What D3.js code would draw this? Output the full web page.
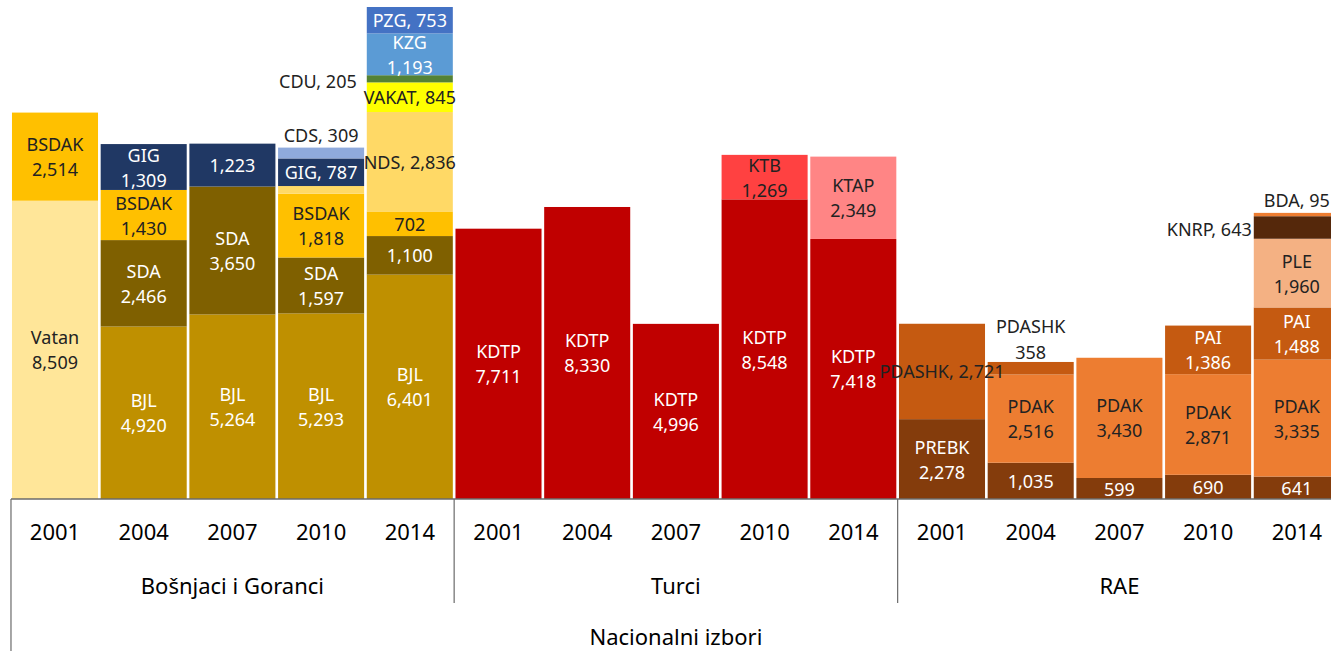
<!DOCTYPE html>
<html>
<head>
<meta charset="utf-8">
<script src="https://cdn.jsdelivr.net/npm/d3@7"></script>
<style>
  body { margin: 0; background: #fff; }
  text { font-family: "Noto Sans", "Open Sans", sans-serif; }
</style>
</head>
<body>
<svg width="1331" height="651"></svg>
<script>
'use strict';

// categories
var years = ["2001", "2004", "2007", "2010", "2014"];
var groups = ["Bošnjaci i Goranci", "Turci", "RAE"];
var title = "Nacionalni izbori";

// series values, one per column (3 groups x 5 years)
var Vatan  = [8509, 0, 0, 0, 0,      0, 0, 0, 0, 0,                  0, 0, 0, 0, 0];
var BJL    = [0, 4920, 5264, 5293, 6401, 0, 0, 0, 0, 0,              0, 0, 0, 0, 0];
var PREBK  = [0, 0, 0, 0, 0,         0, 0, 0, 0, 0,                  2278, 1035, 599, 690, 641];
var KDTP   = [0, 0, 0, 0, 0,         7711, 8330, 4996, 8548, 7418,   0, 0, 0, 0, 0];
var SDA    = [0, 2466, 3650, 1597, 1100, 0, 0, 0, 0, 0,              0, 0, 0, 0, 0];
var BSDAK  = [2514, 1430, 0, 1818, 702, 0, 0, 0, 0, 0,               0, 0, 0, 0, 0];
var NDS    = [0, 0, 0, 220, 2836,    0, 0, 0, 0, 0,                  0, 0, 0, 0, 0];
var GIG    = [0, 1309, 1223, 787, 0, 0, 0, 0, 0, 0,                  0, 0, 0, 0, 0];
var CDS    = [0, 0, 0, 309, 0,       0, 0, 0, 0, 0,                  0, 0, 0, 0, 0];
var VAKAT  = [0, 0, 0, 0, 845,       0, 0, 0, 0, 0,                  0, 0, 0, 0, 0];
var CDU    = [0, 0, 0, 0, 205,       0, 0, 0, 0, 0,                  0, 0, 0, 0, 0];
var KZG    = [0, 0, 0, 0, 1193,      0, 0, 0, 0, 0,                  0, 0, 0, 0, 0];
var PZG    = [0, 0, 0, 0, 753,       0, 0, 0, 0, 0,                  0, 0, 0, 0, 0];
var KTB    = [0, 0, 0, 0, 0,         0, 0, 0, 1269, 0,               0, 0, 0, 0, 0];
var KTAP   = [0, 0, 0, 0, 0,         0, 0, 0, 0, 2349,               0, 0, 0, 0, 0];
var PDAK   = [0, 0, 0, 0, 0,         0, 0, 0, 0, 0,                  0, 2516, 3430, 2871, 3335];
var PDASHK = [0, 0, 0, 0, 0,         0, 0, 0, 0, 0,                  2721, 358, 0, 0, 0];
var PAI    = [0, 0, 0, 0, 0,         0, 0, 0, 0, 0,                  0, 0, 0, 1386, 1488];
var PLE    = [0, 0, 0, 0, 0,         0, 0, 0, 0, 0,                  0, 0, 0, 0, 1960];
var KNRP   = [0, 0, 0, 0, 0,         0, 0, 0, 0, 0,                  0, 0, 0, 0, 643];
var BDA    = [0, 0, 0, 0, 0,         0, 0, 0, 0, 0,                  0, 0, 0, 0, 95];

// stack order bottom -> top
var series = {
  Vatan: Vatan, BJL: BJL, PREBK: PREBK, KDTP: KDTP, SDA: SDA, BSDAK: BSDAK, NDS: NDS,
  GIG: GIG, CDS: CDS, VAKAT: VAKAT, CDU: CDU, KZG: KZG, PZG: PZG, KTB: KTB, KTAP: KTAP,
  PDAK: PDAK, PDASHK: PDASHK, PAI: PAI, PLE: PLE, KNRP: KNRP, BDA: BDA
};
var keys = Object.keys(series);

var colors = {
  Vatan: "#FFE699", BJL: "#BF9000", PREBK: "#843C0C", KDTP: "#C00000", SDA: "#7F6000",
  BSDAK: "#FFC000", NDS: "#FFD966", GIG: "#203864", CDS: "#8FAADC", VAKAT: "#FFFF00",
  CDU: "#548235", KZG: "#5B9BD5", PZG: "#4472C4", KTB: "#FF4141", KTAP: "#FF8585",
  PDAK: "#ED7D31", PDASHK: "#C55A11", PAI: "#C55A11", PLE: "#F4B183", KNRP: "#55280B",
  BDA: "#ED7D31"
};
var whiteText = ["BJL", "SDA", "GIG", "KZG", "PZG", "KDTP", "PREBK", "PAI"];

// how each label is written (default: name and value on two lines)
var labelMode = {
  "GIG-2": "value", "GIG-3": "inline", "CDS-3": "above", "NDS-3": "none",
  "SDA-4": "value", "BSDAK-4": "value", "NDS-4": "inline", "VAKAT-4": "inline",
  "CDU-4": "left", "PZG-4": "inline",
  "PDASHK-10": "inline", "PDASHK-11": "aboveTwo",
  "PREBK-11": "value", "PREBK-12": "value", "PREBK-13": "value", "PREBK-14": "value",
  "KNRP-14": "left", "BDA-14": "above"
};
var leftGap = { "CDU-4": 10, "KNRP-14": 2 };

// table for d3.stack
var table = d3.range(15).map(function (i) {
  var row = { col: i };
  keys.forEach(function (k) { row[k] = series[k][i]; });
  return row;
});

var svg = d3.select('svg');
var width = +svg.attr('width');
var height = +svg.attr('height');

var baseY = 499;

var x = d3.scaleBand()
  .domain(d3.range(15))
  .range([10.65, 10.65 + 15 * 88.7])
  .paddingInner(0.03)
  .paddingOuter(0.015);

var y = d3.scaleLinear()
  .domain([0, 14035])
  .range([baseY, 7]);

var stacked = d3.stack().keys(keys)(table);
var fmt = d3.format(",");
var sep = ',\u00a0';

var layer = svg.append('g')
  .selectAll('g')
  .data(stacked)
  .enter()
  .append('g')
  .attr('fill', function (d) { return colors[d.key]; });

layer.selectAll('rect')
  .data(function (d) { return d.map(function (p) { return { key: d.key, p: p }; }); })
  .enter()
  .filter(function (d) { return d.p[1] > d.p[0]; })
  .append('rect')
  .attr('x', function (d) { return x(d.p.data.col); })
  .attr('width', x.bandwidth())
  .attr('y', function (d) { return y(d.p[1]); })
  .attr('height', function (d) { return y(d.p[0]) - y(d.p[1]); });

// labels
var labels = svg.append('g')
  .attr('font-size', 18);

stacked.forEach(function (s) {
  s.forEach(function (p) {
    if (p[1] <= p[0]) return;
    var col = p.data.col;
    var id = s.key + '-' + col;
    var mode = labelMode[id] || 'two';
    if (mode === 'none') return;
    var v = p[1] - p[0];
    var cx = x(col) + x.bandwidth() / 2;
    var cy = (y(p[0]) + y(p[1])) / 2;
    var fill = whiteText.indexOf(s.key) >= 0 ? '#ffffff' : '#222222';
    var t = labels.append('text')
      .attr('text-anchor', 'middle')
      .attr('dominant-baseline', 'central')
      .attr('fill', fill);

    if (mode === 'two') {
      t.attr('x', cx).attr('y', cy);
      t.append('tspan').attr('x', cx).attr('dy', -12.5).text(s.key);
      t.append('tspan').attr('x', cx).attr('dy', 25).text(fmt(v));
    } else if (mode === 'value') {
      t.attr('x', cx).attr('y', cy).text(fmt(v));
    } else if (mode === 'inline') {
      t.attr('x', cx).attr('y', cy).text(s.key + sep + fmt(v));
    } else if (mode === 'above') {
      t.attr('fill', '#222222').attr('x', cx).attr('y', y(p[1]) - 13)
        .text(s.key + sep + fmt(v));
    } else if (mode === 'aboveTwo') {
      t.attr('fill', '#222222').attr('x', cx).attr('y', y(p[1]) - 36);
      t.append('tspan').attr('x', cx).attr('dy', 0).text(s.key);
      t.append('tspan').attr('x', cx).attr('dy', 26).text(fmt(v));
    } else if (mode === 'left') {
      t.attr('fill', '#222222').attr('text-anchor', 'end')
        .attr('x', x(col) - leftGap[id]).attr('y', cy + 2)
        .text(s.key + sep + fmt(v));
    }
  });
});

// category axis (years)
var axis = svg.append('g')
  .attr('transform', 'translate(0,' + baseY + ')')
  .call(d3.axisBottom(x)
    .tickSize(0)
    .tickPadding(25)
    .tickFormat(function (i) { return years[i % 5]; }));
axis.select('.domain').remove();
axis.selectAll('text')
  .attr('font-size', 22)
  .attr('fill', '#000')
  .attr('font-family', '"Noto Sans", sans-serif');

var step = x.step();
var gap = step * x.paddingInner() / 2;
var lineColor = '#6b6b6b';

svg.append('line')
  .attr('x1', x(0) - 1).attr('x2', width)
  .attr('y1', baseY).attr('y2', baseY)
  .attr('stroke', lineColor).attr('stroke-width', 1.5);

svg.append('line')
  .attr('x1', x(0) - 1).attr('x2', x(0) - 1)
  .attr('y1', baseY).attr('y2', height)
  .attr('stroke', lineColor).attr('stroke-width', 1.2);

[5, 10].forEach(function (i) {
  svg.append('line')
    .attr('x1', x(i) - gap).attr('x2', x(i) - gap)
    .attr('y1', baseY).attr('y2', 603)
    .attr('stroke', lineColor).attr('stroke-width', 1.2);
});

// group labels
svg.append('g')
  .selectAll('text')
  .data(groups)
  .enter()
  .append('text')
  .attr('x', function (d, i) { return (x(i * 5) + x(i * 5 + 4) + x.bandwidth()) / 2; })
  .attr('y', 585)
  .attr('text-anchor', 'middle')
  .attr('dominant-baseline', 'central')
  .attr('font-size', 22)
  .text(function (d) { return d; });

svg.append('text')
  .attr('x', (x(0) + x(14) + x.bandwidth()) / 2)
  .attr('y', 636)
  .attr('text-anchor', 'middle')
  .attr('dominant-baseline', 'central')
  .attr('font-size', 22)
  .text(title);
</script>
</body>
</html>
